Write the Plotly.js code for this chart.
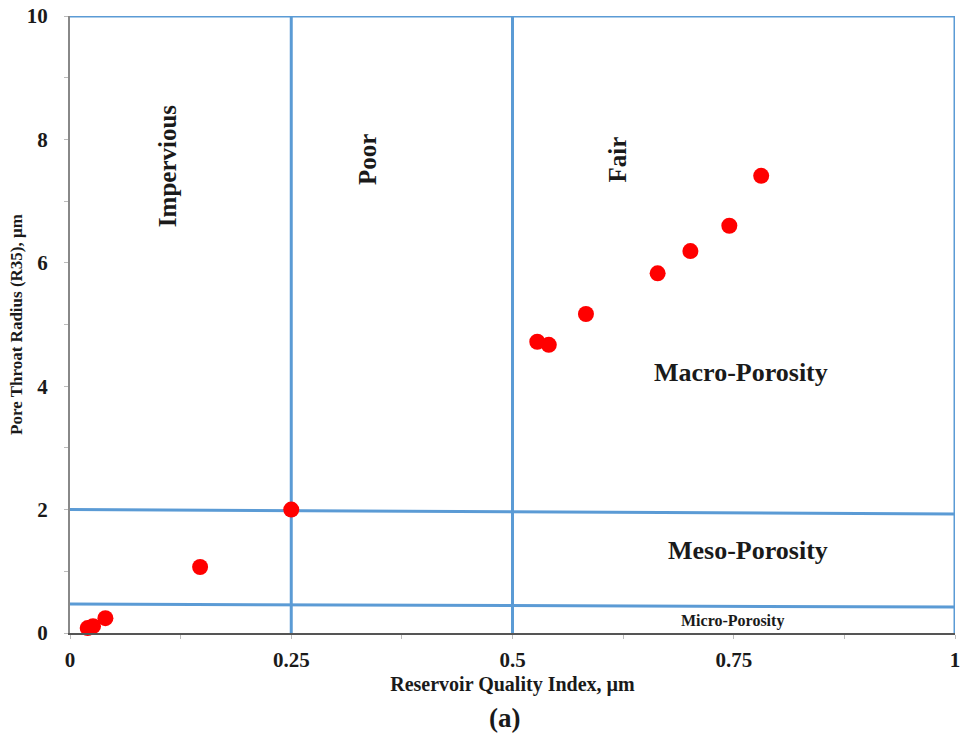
<!DOCTYPE html>
<html>
<head>
<meta charset="utf-8">
<script src="https://cdn.plot.ly/plotly-3.0.1.min.js"></script>
<style>
  html, body { margin: 0; padding: 0; background: #fff; }
  #chart { width: 970px; height: 739px; }
</style>
</head>
<body>
<div id="chart"></div>
<script>
// Sample points: reservoir quality index (µm) vs pore throat radius R35 (µm)
const rqi = [0.020, 0.026, 0.040, 0.147, 0.250, 0.528, 0.541, 0.583, 0.664, 0.701, 0.745, 0.781];
const r35 = [0.08, 0.11, 0.24, 1.07, 2.00, 4.72, 4.67, 5.17, 5.83, 6.19, 6.60, 7.41];

// Classification boundaries (each pair of points is one segment)
const boundaryX = [
  [0.25, 0.25],   // impervious / poor
  [0.5, 0.5],     // poor / fair
  [1, 1],         // right frame
  [0, 1],         // top frame
  [0, 1],         // macro / meso
  [0, 1]          // meso / micro
];
const boundaryY = [
  [0, 10],
  [0, 10],
  [0, 10],
  [10, 10],
  [2.0, 1.93],
  [0.47, 0.42]
];

// Zone labels
const zoneLabels = ["Impervious", "Poor", "Fair", "Macro-Porosity", "Meso-Porosity", "Micro-Porosity"];

// Tick labels
const xTicks = [0, 0.25, 0.5, 0.75, 1];
const xTickText = ["0", "0.25", "0.5", "0.75", "1"];
const yTicks = [0, 2, 4, 6, 8, 10];
const yTickText = ["0", "2", "4", "6", "8", "10"];

const serif = "Liberation Serif, Times New Roman, serif";
const blue = "#5b9bd5";
const ink = "#1a1a1a";
const bold = s => "<b>" + s + "</b>";

const traces = boundaryX.map((xs, i) => ({
  x: xs, y: boundaryY[i], mode: "lines", type: "scatter",
  line: { color: blue, width: 3 }, hoverinfo: "skip", showlegend: false, cliponaxis: false
}));

traces.push({
  x: rqi, y: r35, mode: "markers", type: "scatter",
  marker: { color: "#ff0000", size: 16 }, showlegend: false, cliponaxis: false
});

const zoneAnn = [
  { text: zoneLabels[0], x: 0.111, y: 7.57, textangle: -90, size: 25 },
  { text: zoneLabels[1], x: 0.337, y: 7.67, textangle: -90, size: 25 },
  { text: zoneLabels[2], x: 0.619, y: 7.67, textangle: -90, size: 25 },
  { text: zoneLabels[3], x: 0.758, y: 4.22, textangle: 0, size: 26 },
  { text: zoneLabels[4], x: 0.766, y: 1.33, textangle: 0, size: 26 },
  { text: zoneLabels[5], x: 0.749, y: 0.19, textangle: 0, size: 16 }
].map(a => ({
  text: bold(a.text), x: a.x, y: a.y, xref: "x", yref: "y",
  textangle: a.textangle, showarrow: false,
  font: { family: serif, size: a.size, color: ink }
}));

zoneAnn.push({
  text: bold("(a)"), x: 0.4905, y: -0.138, xref: "paper", yref: "paper",
  xanchor: "center", yanchor: "middle",
  showarrow: false, font: { family: serif, size: 27, color: ink }
});

const layout = {
  width: 970, height: 739,
  margin: { l: 70, r: 15, t: 16, b: 106 },
  paper_bgcolor: "#fff", plot_bgcolor: "#fff",
  showlegend: false,
  font: { family: serif, color: ink },
  xaxis: {
    range: [0, 1], tickvals: xTicks, ticktext: xTickText.map(bold),
    showgrid: false, zeroline: false, showline: true, linecolor: "#555", linewidth: 2,
    ticks: "outside", ticklen: 4, tickcolor: "#bbb", ticklabelstandoff: 3,
    minor: { dtick: 0.125, ticks: "outside", ticklen: 4, tickcolor: "#bbb" },
    tickfont: { family: serif, size: 21, color: ink },
    title: { text: bold("Reservoir Quality Index, µm"), standoff: 6,
             font: { family: serif, size: 20, color: ink } },
    fixedrange: true
  },
  yaxis: {
    range: [0, 10], tickvals: yTicks, ticktext: yTickText.map(bold),
    showgrid: false, zeroline: false, showline: true, linecolor: "#888", linewidth: 2,
    ticks: "outside", ticklen: 4, tickcolor: "#bbb", ticklabelstandoff: 12,
    minor: { dtick: 1, ticks: "outside", ticklen: 4, tickcolor: "#bbb" },
    tickfont: { family: serif, size: 21, color: ink },
    title: { text: bold("Pore Throat Radius (R35), µm"), standoff: 0,
             font: { family: serif, size: 17, color: ink } },
    fixedrange: true
  },
  annotations: zoneAnn
};

Plotly.newPlot("chart", traces, layout, { displayModeBar: false, staticPlot: true });
</script>
</body>
</html>
